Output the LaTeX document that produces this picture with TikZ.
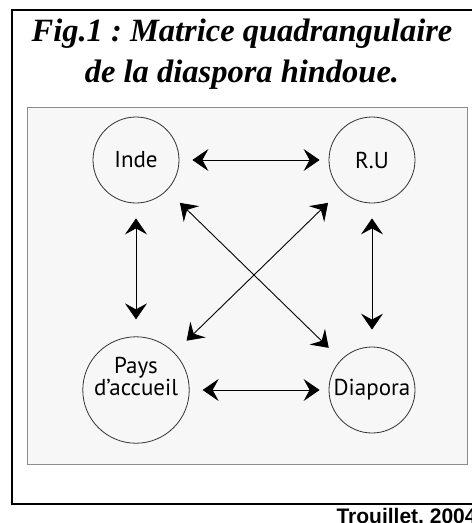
\documentclass[tikz,border=0pt]{standalone}
\usepackage{fontspec}
\setmainfont{Liberation Serif}
\newfontfamily\circfont{PT Sans}
\newfontfamily\srcfont{Liberation Sans}
\usetikzlibrary{arrows.meta}
\frenchspacing

\begin{document}
\begin{tikzpicture}[x=1pt, y=-1pt,
		pole/.style={draw=black!80, line width=0.8pt, circle, minimum size=86pt, inner sep=0pt, font=\circfont\fontsize{23}{23}\selectfont, align=center},
		link/.style={black, line width=0.9pt, {Stealth[length=16pt,width=22pt,inset=6pt]}-{Stealth[length=16pt,width=22pt,inset=6pt]}}]
		\useasboundingbox (0,0) rectangle (472,523);
		\clip (0,0) rectangle (472,523);

		\draw[black, line width=2.5pt] (12,10) rectangle (482,504);
		\node[font=\bfseries\itshape\fontsize{32.5}{41}\selectfont, align=center, anchor=base] (titre) at (242,82) {Fig.1 : Matrice quadrangulaire\\ de la diaspora hindoue.};
		\draw[draw=black!45, fill=black!3, line width=1pt] (27,107) rectangle (467,464);

		\node[pole] (inde) at (136,160) {Inde};
		\node[pole] (ru) at (372,160) {R.U};
		\node[pole] (pays) at (136,390) {Pays\\[-1pt]d’accueil\\[4pt]};
		\node[pole] (diapora) at (372,390) {Diapora};

		\draw[link, shorten <=13pt, shorten >=9pt] (inde) -- (ru);
		\draw[link, shorten <=13pt, shorten >=9pt] (pays) -- (diapora);
		\draw[link, shorten <=15pt, shorten >=17pt] (inde) -- (pays);
		\draw[link, shorten <=15pt, shorten >=17pt] (ru) -- (diapora);
		\draw[link, shorten <=18pt, shorten >=17pt] (inde) -- (diapora);
		\draw[link, shorten <=18pt, shorten >=17pt] (ru) -- (pays);

		\node[font=\srcfont\bfseries\fontsize{21}{24}\selectfont, anchor=base west] (source) at (333,523) {Trouillet, 2004};
	\end{tikzpicture}
\end{document}
